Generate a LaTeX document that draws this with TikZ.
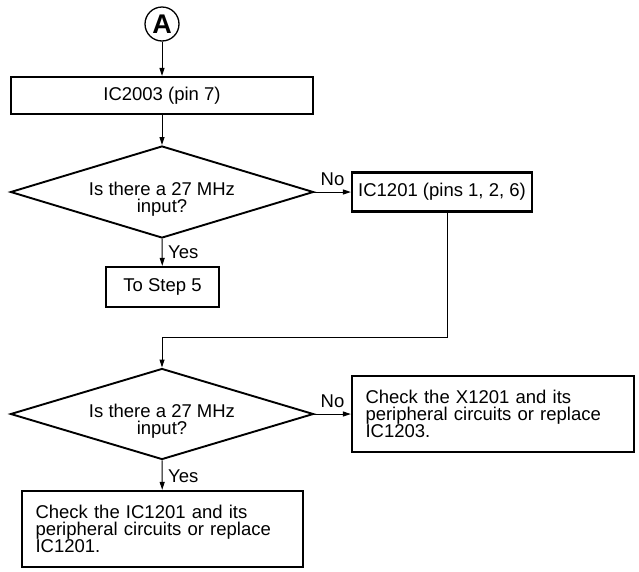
\documentclass[tikz,border=0pt]{standalone}
\usepackage{fontspec}
\setmainfont{Liberation Sans}
\usetikzlibrary{arrows.meta,shapes.geometric,calc}
\begin{document}
\begin{tikzpicture}[x=1pt,y=-1pt,
  txt/.style={font=\fontsize{18.5pt}{16.8pt}\selectfont},
  box/.style={txt,draw,rectangle,line width=2.3pt,inner sep=0pt},
  lbox/.style={box,align=left,inner xsep=13.5pt},
  dia/.style={draw,diamond,aspect=3.3,line width=1.9pt,inner sep=0pt,minimum width=303pt},
  dtext/.style={txt,align=center,inner sep=0pt},
  lbl/.style={txt,inner sep=0pt},
  arr/.style={line width=1pt,-{Triangle[length=8pt,width=5pt]}},
  circ/.style={draw,circle,line width=1.3pt,inner sep=0pt,minimum size=34pt,font=\fontsize{27pt}{27pt}\selectfont\bfseries}
]
\useasboundingbox (0,0) rectangle (639,571);

\node[circ] (A) at (162,24) {A};
\node[box,minimum width=302pt,minimum height=37pt] (b1) at (162,95.5) {IC2003 (pin 7)};
\node[dia,minimum height=92pt] (d1) at (162,192) {};
\node[dtext] (d1t) at (162,199) {Is there a 27 MHz\\input?};
\node[box,minimum width=180pt,minimum height=39pt] (b2) at (442,192) {IC1201 (pins 1, 2, 6)};
\node[box,minimum width=113pt,minimum height=40pt] (b3) at (162.5,287) {To Step 5};
\coordinate (c1) at (447,337.5);
\coordinate (c2) at (162,337.5);
\node[dia,minimum height=91pt] (d2) at (162,414) {};
\node[dtext] (d2t) at (162,421) {Is there a 27 MHz\\input?};
\node[lbox,text width=255pt,minimum width=282pt,minimum height=76pt] (b4) at (493,414)
  {Check the X1201 and its\\peripheral circuits or replace\\IC1203.};
\node[lbox,text width=254pt,minimum width=281pt,minimum height=76pt] (b5) at (162.5,529)
  {Check the IC1201 and its\\peripheral circuits or replace\\IC1201.};

\node[lbl,anchor=base west] (no1) at ($(d1.east)+(6,-6.5)$) {No};
\node[lbl,anchor=base west] (yes1) at ($(d1.south)+(6,20)$) {Yes};
\node[lbl,anchor=base west] (no2) at ($(d2.east)+(6,-6.5)$) {No};
\node[lbl,anchor=base west] (yes2) at ($(d2.south)+(6,22)$) {Yes};

\draw[arr] (A) -- (b1);
\draw[arr] (b1) -- (d1.north);
\draw[arr] (d1.east) -- (d1.east -| b2.west);
\draw[arr] (d1.south) -- (b3);
\draw[arr] ([xshift=5pt]b2.south) -- (c1) -- (c2) -- (d2.north);
\draw[arr] (d2.east) -- (d2.east -| b4.west);
\draw[arr] (d2.south) -- (b5);
\end{tikzpicture}
\end{document}
